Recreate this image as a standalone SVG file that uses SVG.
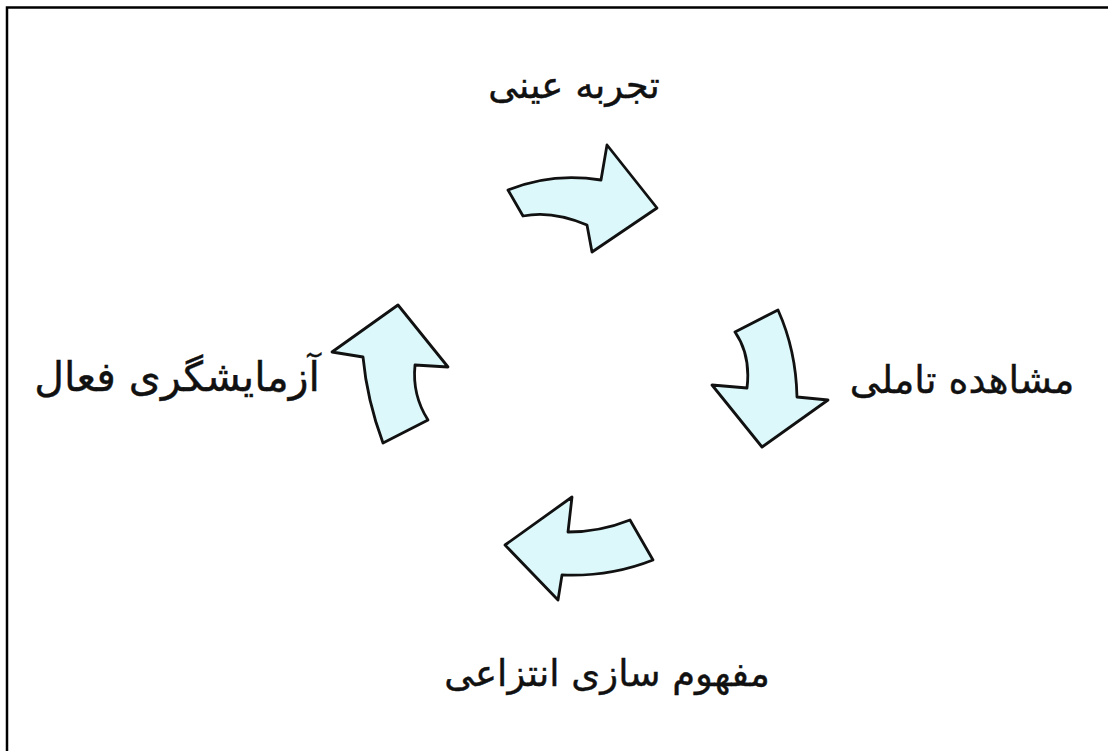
<svg xmlns="http://www.w3.org/2000/svg" width="1108" height="751" viewBox="0 0 1108 751">
<style>
.arrow{fill:#dcf8fa;stroke:#111;stroke-width:2.8;stroke-linejoin:round}
.lbl{font-family:"DejaVu Sans","Noto Sans",sans-serif;font-size:37px;fill:#111;stroke:#111;stroke-width:0.4;direction:rtl;text-anchor:middle}
</style>
<rect width="1108" height="751" fill="#fff"/>
<path d="M7,751 L7,7.5 L1108,7.5" fill="none" stroke="#000" stroke-width="2.5"/>
<g id="connectors">
<path class="arrow" d="M508,190 Q552,172 601,180 L607,145 L657,208 L592,252 L587,225 Q552,210 523,216 Z"/>
<path class="arrow" d="M735,332 L778,310 Q796,350 797,397 L828,400 L762,447 L712,385 L747,388 Q751,355 735,332 Z"/>
<path class="arrow" d="M505,545 L572,497 L568,532 Q600,532 630,520 L653,560 Q610,577 562,575 L558,600 Z"/>
<path class="arrow" d="M398,305 L448,367 L415,365 Q412,395 428,420 L383,443 Q367,400 363,357 L332,352 Z"/>
</g>
<g id="n1"><text class="lbl" x="574" y="98">تجربه عینی</text></g>
<g id="n2"><text class="lbl" x="962" y="393" style="font-size:38px">مشاهده تاملی</text></g>
<g id="n3"><text class="lbl" x="607" y="686">مفهوم سازی انتزاعی</text></g>
<g id="n4"><text class="lbl" x="177" y="391" style="font-size:41px">آزمایشگری فعال</text></g>
</svg>
